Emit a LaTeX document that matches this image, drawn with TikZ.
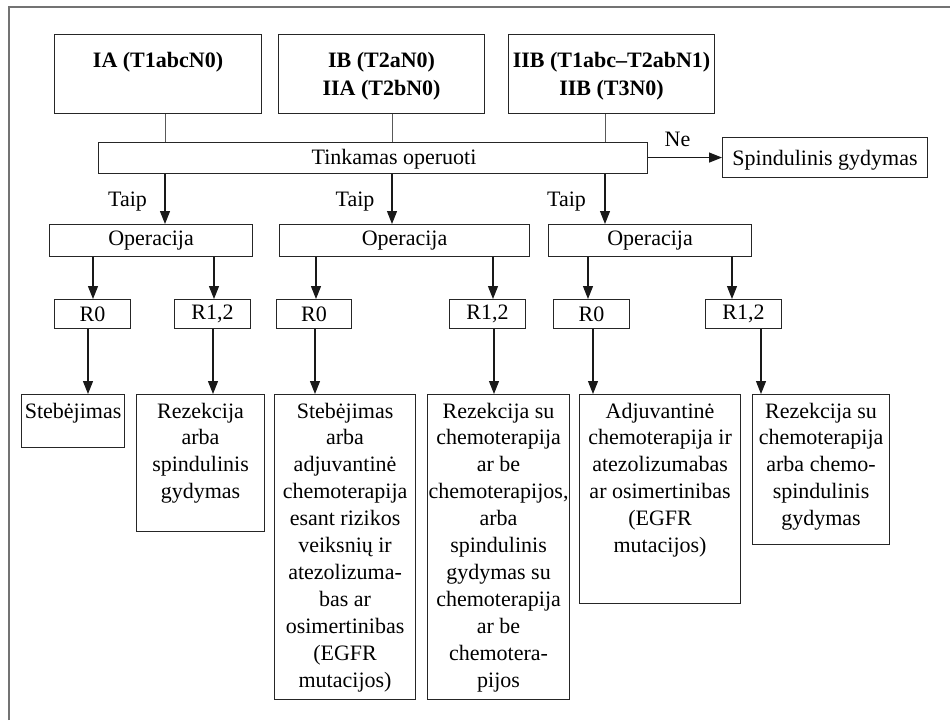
\documentclass[tikz,border=0pt]{standalone}
\usepackage{fontspec}
\setmainfont{Liberation Serif}
\usetikzlibrary{arrows.meta}
\begin{document}
\begin{tikzpicture}[x=1pt,y=-1pt,
  box/.style={draw=black!85, line width=1.1pt, inner sep=0pt, anchor=north west,
              font=\fontsize{22}{26.9}\selectfont},
  conn/.style={draw=black!65, line width=1pt},
  arr/.style={draw=black!90, line width=1.1pt, -{Triangle[length=13pt,width=10pt]}},
  lbl/.style={inner sep=0pt, anchor=base, font=\fontsize{22}{26.9}\selectfont},
  body/.style={inner sep=0pt, align=center, anchor=north, font=\fontsize{22}{26.9}\selectfont},
  head/.style={inner sep=0pt, align=center, anchor=north, font=\fontsize{22}{28}\selectfont\bfseries},
  frame/.style={draw=black!55, line width=1.2pt},
]
\useasboundingbox (0,0) rectangle (950,720);

% outer frame (only top and left edges fall inside the page)
\coordinate (fa) at (9,720);
\coordinate (fb) at (9,7);
\coordinate (fc) at (950,7);
\draw[frame] (fa) -- (fb) -- (fc);

% stage boxes
\node[box, minimum width=207pt, minimum height=79pt] (t1) at (54,34) {};
\node[box, minimum width=206pt, minimum height=79pt] (t2) at (278,34) {};
\node[box, minimum width=206pt, minimum height=79pt] (t3) at (508,34) {};
\node[head] (t1t) at ([yshift=-13.4pt]t1.north) {\strut IA (T1abcN0)};
\node[head] (t2t) at ([yshift=-13.4pt]t2.north) {\strut IB (T2aN0)\\IIA (T2bN0)};
\node[head] (t3t) at ([yshift=-13.4pt]t3.north) {\strut IIB (T1abc--T2abN1)\\IIB (T3N0)};

% operability decision
\node[box, minimum width=549pt, minimum height=31pt] (bar) at (98,142) {};
\node[lbl] (bart) at (394,164) {Tinkamas operuoti};
\node[box, minimum width=205pt, minimum height=40pt, text height=15pt, text depth=0pt] (sp) at (722,137) {Spindulinis gydymas};

% operations
\node[box, minimum width=203pt, minimum height=32pt] (op1) at (49,224) {Operacija};
\node[box, minimum width=250pt, minimum height=32pt] (op2) at (279,224) {Operacija};
\node[box, minimum width=203pt, minimum height=32pt] (op3) at (548,224) {Operacija};

% resection margins
\node[box, minimum width=76pt, minimum height=29pt] (r01) at (54,299) {R0};
\node[box, minimum width=76pt, minimum height=29pt] (r11) at (174,299) {R1,2};
\node[box, minimum width=75pt, minimum height=29pt] (r02) at (276,299) {R0};
\node[box, minimum width=76pt, minimum height=29pt] (r12) at (449,299) {R1,2};
\node[box, minimum width=76pt, minimum height=29pt] (r03) at (553,299) {R0};
\node[box, minimum width=76pt, minimum height=29pt] (r13) at (705,299) {R1,2};

% treatment boxes
\node[box, minimum width=103pt, minimum height=53pt] (l1) at (21,394) {};
\node[box, minimum width=128pt, minimum height=137pt] (l2) at (136,394) {};
\node[box, minimum width=141pt, minimum height=305pt] (l3) at (274,394) {};
\node[box, minimum width=142pt, minimum height=305pt] (l4) at (427,394) {};
\node[box, minimum width=161pt, minimum height=209pt] (l5) at (579,394) {};
\node[box, minimum width=137pt, minimum height=150pt] (l6) at (752,394) {};

\node[body] (l1t) at ([yshift=-5pt]l1.north) {\strut Stebėjimas};
\node[body] (l2t) at ([yshift=-5pt]l2.north) {\strut Rezekcija\\arba\\spindulinis\\gydymas};
\node[body] (l3t) at ([yshift=-5pt]l3.north) {\strut Stebėjimas\\arba\\adjuvantinė\\chemoterapija\\esant rizikos\\veiksnių ir\\atezolizuma-\\bas ar\\osimertinibas\\(EGFR\\mutacijos)};
\node[body] (l4t) at ([yshift=-5pt]l4.north) {\strut Rezekcija su\\chemoterapija\\ar be\\chemoterapijos,\\arba\\spindulinis\\gydymas su\\chemoterapija\\ar be\\chemotera-\\pijos};
\node[body] (l5t) at ([yshift=-5pt]l5.north) {\strut Adjuvantinė\\chemoterapija ir\\atezolizumabas\\ar osimertinibas\\(EGFR\\mutacijos)};
\node[body] (l6t) at ([yshift=-5pt]l6.north) {\strut Rezekcija su\\chemoterapija\\arba chemo-\\spindulinis\\gydymas};

% column guides for the vertical connectors
\coordinate (k1) at (165,0);
\coordinate (k2) at (392,0);
\coordinate (k3) at (605,0);

\draw[conn] (t1.south -| k1) -- (bar.north -| k1);
\draw[conn] (t2.south -| k2) -- (bar.north -| k2);
\draw[conn] (t3.south -| k3) -- (bar.north -| k3);

\draw[arr] (bar.south -| k1) -- (op1.north -| k1);
\draw[arr] (bar.south -| k2) -- (op2.north -| k2);
\draw[arr] (bar.south -| k3) -- (op3.north -| k3);
\node[lbl] (y1) at (127.5,206.5) {Taip};
\node[lbl] (y2) at (355,206.5) {Taip};
\node[lbl] (y3) at (566.5,206.5) {Taip};

\draw[arr] (bar.east |- sp.west) -- (sp.west);
\node[lbl] (no) at (677.5,146) {Ne};

% operation to margin
\coordinate (a1) at (93,0);
\coordinate (a2) at (214,0);
\coordinate (a3) at (316,0);
\coordinate (a4) at (493,0);
\coordinate (a5) at (588,0);
\coordinate (a6) at (732,0);
\draw[arr] (op1.south -| a1) -- (r01.north -| a1);
\draw[arr] (op1.south -| a2) -- (r11.north -| a2);
\draw[arr] (op2.south -| a3) -- (r02.north -| a3);
\draw[arr] (op2.south -| a4) -- (r12.north -| a4);
\draw[arr] (op3.south -| a5) -- (r03.north -| a5);
\draw[arr] (op3.south -| a6) -- (r13.north -| a6);

% margin to treatment
\coordinate (b1) at (88,0);
\coordinate (b2) at (213,0);
\coordinate (b3) at (315,0);
\coordinate (b4) at (494,0);
\coordinate (b5) at (593,0);
\coordinate (b6) at (761,0);
\draw[arr] (r01.south -| b1) -- (l1.north -| b1);
\draw[arr] (r11.south -| b2) -- (l2.north -| b2);
\draw[arr] (r02.south -| b3) -- (l3.north -| b3);
\draw[arr] (r12.south -| b4) -- (l4.north -| b4);
\draw[arr] (r03.south -| b5) -- (l5.north -| b5);
\draw[arr] (r13.south -| b6) -- (l6.north -| b6);
\end{tikzpicture}
\end{document}
